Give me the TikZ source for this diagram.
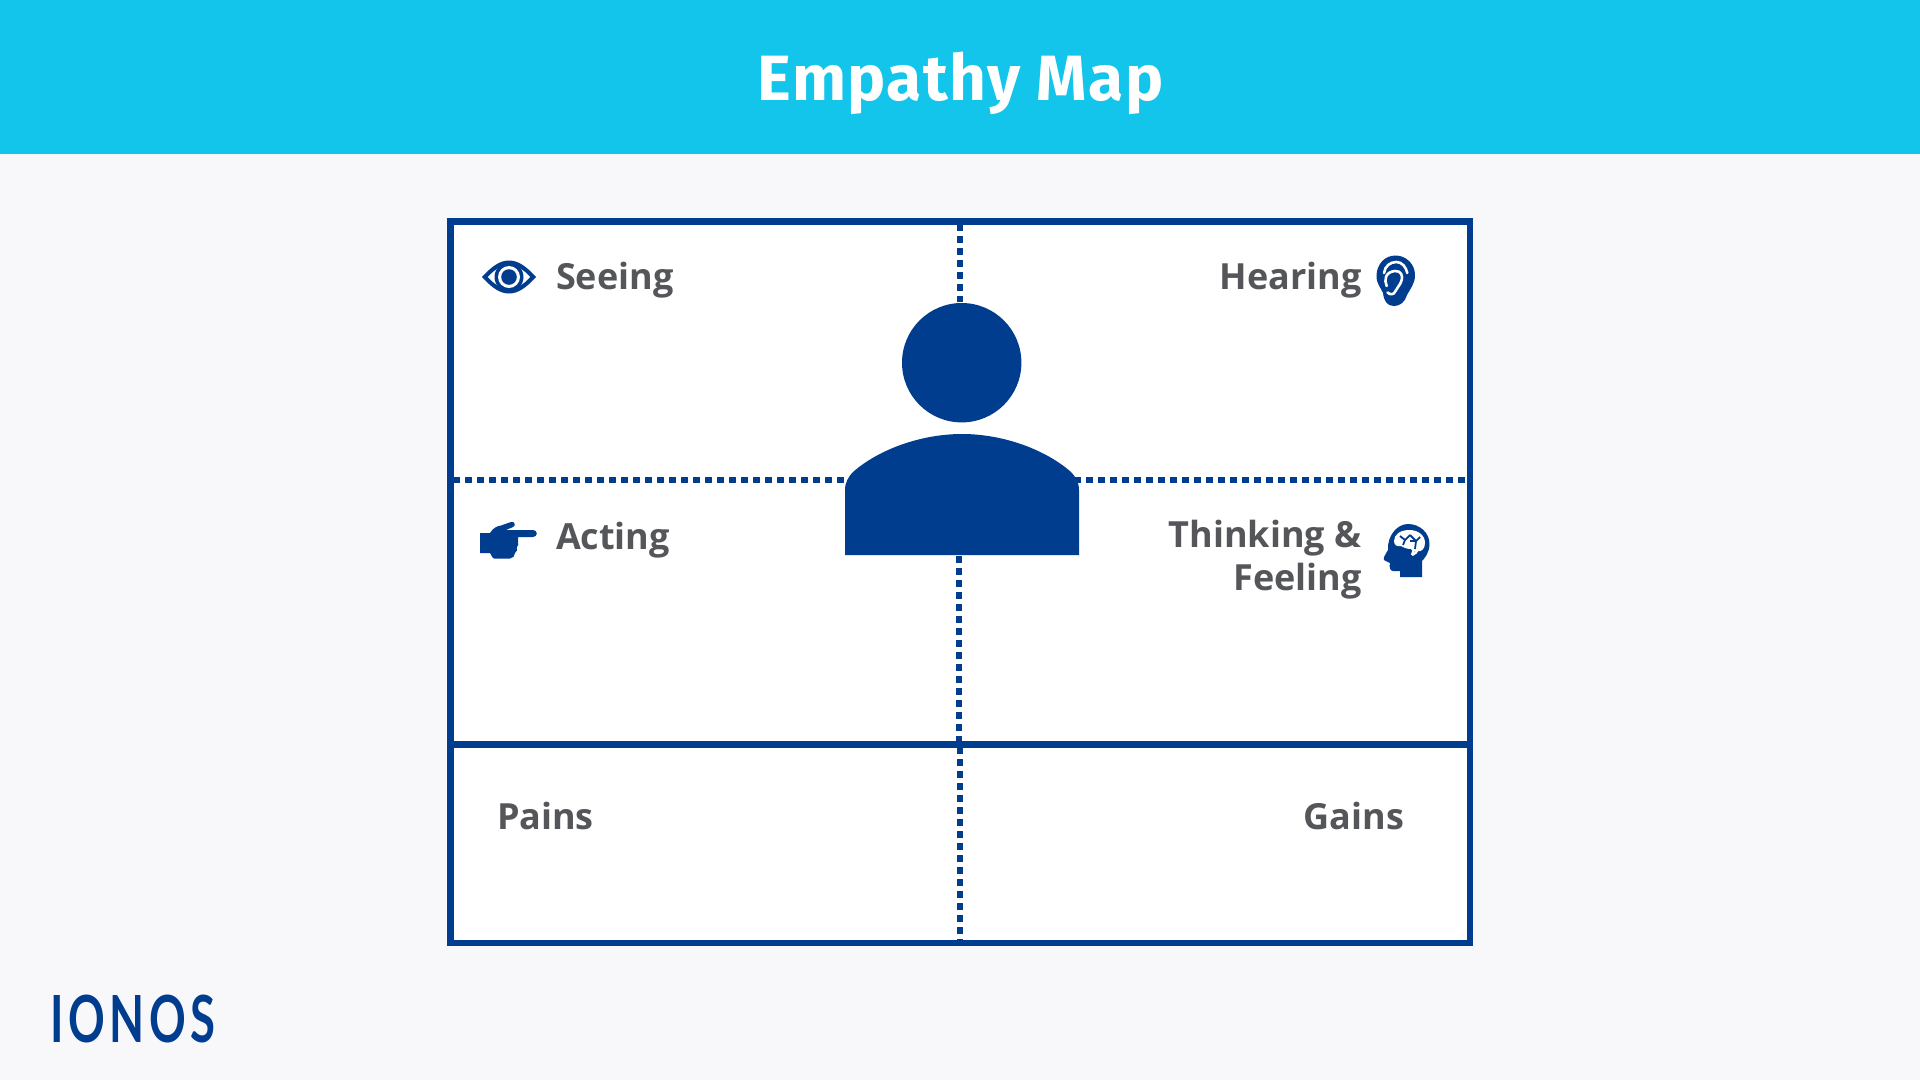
\documentclass[tikz,border=0pt]{standalone}
\usepackage{fontspec}
\setmainfont{Open Sans}
\newfontfamily\titlefont[LetterSpace=2.2]{Fira Sans}
\newfontfamily\logofont[LetterSpace=10]{Lato}
\definecolor{ionos}{HTML}{003D8F}
\definecolor{sky}{HTML}{13C5EA}
\definecolor{paper}{HTML}{F8F8FB}
\definecolor{ink}{HTML}{54565A}
\tikzset{
  lab/.style={text=ink,font=\fontsize{36}{43}\selectfont\bfseries,inner sep=0pt,outer sep=0pt},
  dots/.style={ionos,line width=6.6pt,dash pattern=on 6.6pt off 5.4pt},
  solidline/.style={ionos,line width=6.8pt},
  bluefill/.style={fill=ionos,draw=none},
  gap/.style={white,line width=2.6pt,line cap=round,line join=round}
}
\begin{document}
\begin{tikzpicture}[x=1pt,y=-1pt]
\useasboundingbox (0,0) rectangle (1920,1080);
\fill[paper] (0,0) rectangle (1920,1080);
\fill[sky] (0,0) rectangle (1920,154);
\node[text=white,font=\fontsize{64}{70}\selectfont\titlefont\bfseries,anchor=base,inner sep=0pt] (title) at (960.5,100) {Empathy Map};
% frame
\coordinate (tl) at (450.3,221.3); \coordinate (tr) at (1470,221.3);
\coordinate (bl) at (450.3,943); \coordinate (br) at (1470,943);
\coordinate (ml) at (450.3,744.5); \coordinate (mr) at (1470,744.5);
\fill[white] (tl) rectangle (br);
\draw[solidline] (tl) -- (tr) -- (br) -- (bl) -- cycle;
\draw[solidline] (ml) -- (mr);
% dotted
\coordinate (vt) at (960,224); \coordinate (vtb) at (960,302);
\coordinate (vb) at (959,556); \coordinate (vbm) at (959,744);
\coordinate (vc) at (960,747); \coordinate (vbb) at (960,941);
\coordinate (hl) at (453,480); \coordinate (hlb) at (850,480);
\coordinate (hr) at (1465,480); \coordinate (hrb) at (1075,480);
\draw[dots] (vt) -- (vtb);
\draw[dots] (vb) -- (vbm);
\draw[dots] (vc) -- (vbb);
\draw[dots] (hl) -- (hlb);
\draw[dots] (hr) -- (hrb);
% person
\fill[bluefill] (961.7,362.7) circle (59.7);
\fill[bluefill] (845,555) -- (845,490) .. controls (845,482) and (849,476) .. (853,472) .. controls (878,450) and (920,434) .. (962,434) .. controls (1004,434) and (1046,450) .. (1071,472) .. controls (1075,476) and (1079,482) .. (1079,490) -- (1079,555) -- cycle;
% labels
\node[lab,anchor=base west] (seeing) at (556,289) {Seeing};
\node[lab,anchor=base east] (hearing) at (1361.5,289) {Hearing};
\node[lab,anchor=base west] (acting) at (556,549) {Acting};
\node[lab,anchor=base east] (thinking) at (1361.5,547) {Thinking \&};
\node[lab,anchor=base east] (feeling) at (1361.5,590) {Feeling};
\node[lab,anchor=base west] (pains) at (497,829) {Pains};
\node[lab,anchor=base east] (gains) at (1404,829) {Gains};
% eye
\fill[bluefill] (482,277) .. controls (492,266) and (500,260.5) .. (509,260.5) .. controls (518,260.5) and (526,266) .. (536,277) .. controls (526,288) and (518,293.5) .. (509,293.5) .. controls (500,293.5) and (492,288) .. (482,277) -- cycle;
\fill[white] (488,277) .. controls (495,269) and (501,266) .. (509,266) .. controls (517,266) and (523,269) .. (530,277) .. controls (523,285) and (517,288) .. (509,288) .. controls (501,288) and (495,285) .. (488,277) -- cycle;
\fill[bluefill] (509,277) circle (14.5);
\fill[white] (509,277) circle (11);
\fill[bluefill] (509,277) circle (7.8);
% ear
\fill[bluefill] (1376.5,276) .. controls (1376.5,264) and (1385,255.5) .. (1395.5,255.5) .. controls (1406,255.5) and (1415,264) .. (1415,275) .. controls (1415,284) and (1410,289) .. (1407,295) .. controls (1405,302) and (1400,306) .. (1394,306) .. controls (1387,306) and (1384,301) .. (1383,293) .. controls (1381,288) and (1376.5,284) .. (1376.5,276) -- cycle;
\draw[gap] (1384,273) .. controls (1385,266) and (1390,262) .. (1396.5,262) .. controls (1402,262) and (1406,267) .. (1407.3,273);
\draw[gap] (1386.7,286) .. controls (1384,280) and (1385,272) .. (1395,271) .. controls (1401,270.5) and (1403,276) .. (1401.7,280) .. controls (1400,286) and (1397,287) .. (1395.5,291) .. controls (1394,295) and (1390,295) .. (1387.5,292.5);
% hand
\fill[bluefill] (480,533) -- (490,533) .. controls (493,528) and (497,526) .. (501,525.5) -- (511,522) .. controls (515,521) and (516,526) .. (513,527) -- (506,530) -- (533,530) .. controls (538,530) and (538,537) .. (533,537) -- (518,537) -- (518,541) .. controls (519,544) and (518,546) .. (517,547) .. controls (518,550) and (516,552) .. (515,553) .. controls (515,556) and (513,558) .. (510,558.5) -- (494,558.5) .. controls (492,558) and (491,554) .. (490,553) -- (480,553) -- cycle;
% head with brain
\fill[bluefill] (1400,577) -- (1400,571) -- (1393,571) .. controls (1390,571) and (1389,567) .. (1390,563) -- (1384,560) .. controls (1383,558) and (1385,555) .. (1388,550) .. controls (1387,536) and (1397,524) .. (1408,524) .. controls (1420,524) and (1429.5,533) .. (1429.5,544) .. controls (1429.5,552) and (1425,558) .. (1422,561) -- (1422,577) -- cycle;
\fill[white] (1394,541) .. controls (1394,534) and (1401,530) .. (1409,530) .. controls (1418,530) and (1425,535) .. (1425,543) .. controls (1425,549) and (1421,552) .. (1418,551) .. controls (1416,552) and (1413,552) .. (1411,549) .. controls (1406,549) and (1403,547) .. (1401,546) .. controls (1397,547) and (1394,545) .. (1394,541) -- cycle;
\draw[white,line width=2.4pt] (1414,549) -- (1412,555);
\draw[white,line width=2.4pt] (1418,549) .. controls (1417,552) and (1415,554) .. (1412,555);
\draw[ionos,line width=1.8pt] (1400,536) -- (1405,540) -- (1410,535) (1405,540) -- (1403,545) (1410,535) -- (1416,541) -- (1420,537) (1416,541) -- (1415,549) (1410,541) -- (1416,541);
% logo
\node[text=ionos,font=\fontsize{65}{65}\selectfont\logofont\bfseries,anchor=base west,inner sep=0pt] (logo) at (50,1042) {\scalebox{0.7}[1]{IONOS}};
\end{tikzpicture}
\end{document}
